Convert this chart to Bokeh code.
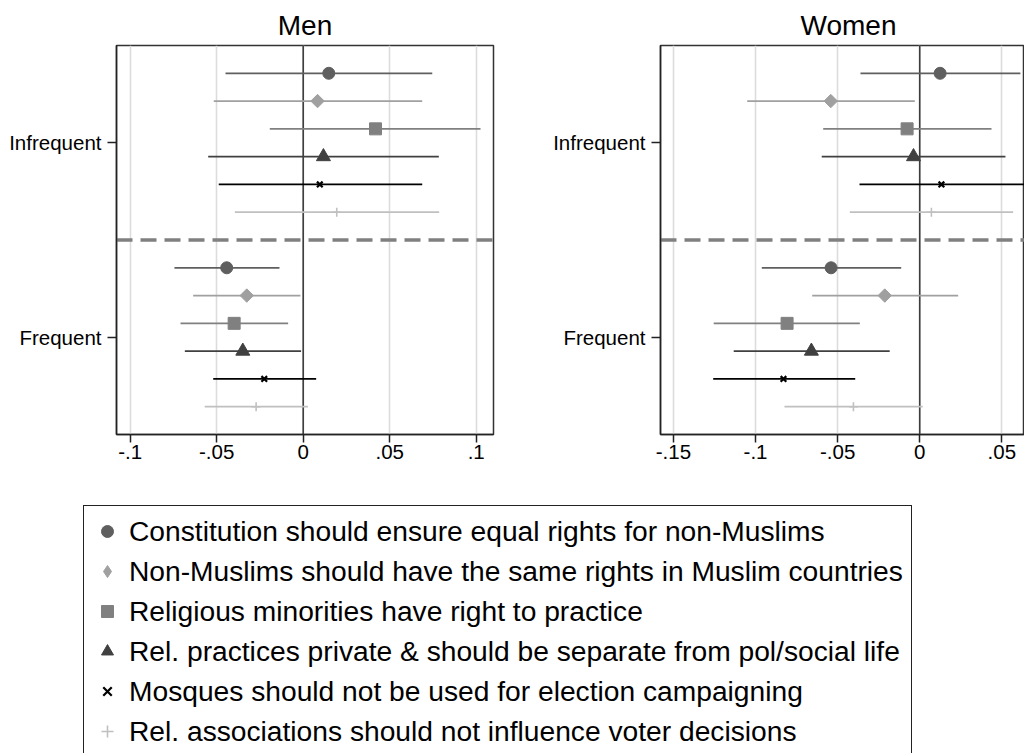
import math
from bokeh.plotting import figure
from bokeh.models import (Range1d, FixedTicker, Span, Legend, LegendItem,
                          ColumnDataSource)
from bokeh.layouts import column, row
from bokeh.embed import file_html
from bokeh.resources import INLINE

# ---------------- data ----------------
series_labels = [
    "Constitution should ensure equal rights for non-Muslims",
    "Non-Muslims should have the same rights in Muslim countries",
    "Religious minorities have right to practice",
    "Rel. practices private & should be separate from pol/social life",
    "Mosques should not be used for election campaigning",
    "Rel. associations should not influence voter decisions",
]
group_labels = ["Infrequent", "Frequent"]

men_infrequent_est = [0.0148, 0.0083, 0.0418, 0.0117, 0.0096, 0.0194]
men_infrequent_lo = [-0.0449, -0.0517, -0.0193, -0.0549, -0.0488, -0.0395]
men_infrequent_hi = [0.0746, 0.0688, 0.1025, 0.0784, 0.0688, 0.0786]
men_frequent_est = [-0.0442, -0.0326, -0.0399, -0.0349, -0.0225, -0.0272]
men_frequent_lo = [-0.0744, -0.0636, -0.0709, -0.0684, -0.0520, -0.0569]
men_frequent_hi = [-0.0137, -0.0016, -0.0087, -0.0012, 0.0075, 0.0027]

women_infrequent_est = [0.0124, -0.0542, -0.0077, -0.0038, 0.0132, 0.0071]
women_infrequent_lo = [-0.0361, -0.1051, -0.0588, -0.0597, -0.0367, -0.0426]
women_infrequent_hi = [0.0613, -0.0030, 0.0437, 0.0522, 0.0660, 0.0569]
women_frequent_est = [-0.0540, -0.0213, -0.0808, -0.0660, -0.0830, -0.0404]
women_frequent_lo = [-0.0962, -0.0655, -0.1255, -0.1133, -0.1258, -0.0824]
women_frequent_hi = [-0.0113, 0.0234, -0.0365, -0.0183, -0.0393, 0.0018]

men_xticks = [-0.1, -0.05, 0.0, 0.05, 0.1]
men_xlabels = ["-.1", "-.05", "0", ".05", ".1"]
women_xticks = [-0.15, -0.1, -0.05, 0.0, 0.05]
women_xlabels = ["-.15", "-.1", "-.05", "0", ".05"]

# ---------------- styles ----------------
FONT = "Liberation Sans"
colors = ["#5f5f5f", "#a0a0a0", "#808080", "#404040", "#000000", "#c0c0c0"]
markers = ["circle", "square", "square", "triangle", "x", "cross"]
legend_markers = ["circle", "diamond", "square", "triangle", "x", "cross"]
angles = [0, math.pi / 4, 0, 0, 0, 0]
sizes = [12, 9.5, 12, 14, 8, 9]
mlw = [1, 1, 1, 1, 2.2, 1.6]

n_series = len(series_labels)
group_offset = {g: k * (n_series + 1) for k, g in enumerate(group_labels)}
y_total = len(group_labels) * (n_series + 1)


def make_panel(title, est, lo, hi, xr, xticks, xlabels, width, mbl, mbr,
               title_align, title_offset):
    p = figure(width=width, height=480, x_range=Range1d(*xr),
               y_range=Range1d(y_total, 0), output_backend="svg",
               toolbar_location=None, min_border_left=mbl,
               min_border_right=mbr, min_border_top=45, min_border_bottom=46,
               title=title)
    p.background_fill_color = "white"
    p.border_fill_color = "white"
    p.outline_line_color = "#333333"
    p.outline_line_width = 1.5

    p.title.text_font = FONT
    p.title.text_font_size = "28px"
    p.title.text_font_style = "normal"
    p.title.text_color = "black"
    p.title.align = title_align
    p.title.offset = title_offset
    p.title.standoff = 10

    # axes
    p.xaxis.ticker = FixedTicker(ticks=xticks)
    p.xaxis.major_label_overrides = dict(zip(xticks, xlabels))
    p.xaxis.major_tick_out = 8
    p.xaxis.major_tick_in = 0
    p.xaxis.minor_tick_line_color = None
    p.xaxis.major_label_standoff = 2
    yt = [group_offset[g] + (n_series + 1) / 2 for g in group_labels]
    p.yaxis.ticker = FixedTicker(ticks=yt)
    p.yaxis.major_label_overrides = dict(zip(yt, group_labels))
    p.yaxis.major_tick_out = 9
    p.yaxis.major_tick_in = 0
    p.yaxis.minor_tick_line_color = None
    p.yaxis.major_label_standoff = 6
    for ax in (p.xaxis, p.yaxis):
        ax.axis_line_color = "#222222"
        ax.axis_line_width = 1.5
        ax.major_tick_line_color = "#222222"
        ax.major_tick_line_width = 1.5
        ax.major_label_text_font = FONT
        ax.major_label_text_font_size = "20.5px"
        ax.major_label_text_color = "black"

    p.xgrid.ticker = FixedTicker(ticks=xticks)
    p.xgrid.grid_line_color = "#dcdcdc"
    p.xgrid.grid_line_width = 1.6
    p.ygrid.grid_line_color = None

    p.add_layout(Span(location=0, dimension="height", line_color="#3c3c3c",
                      line_width=1.6, level="underlay"))
    p.add_layout(Span(location=n_series + 1, dimension="width",
                      line_color="#808080", line_width=3.3,
                      line_dash="16 8", level="underlay"))

    for i in range(n_series):
        src = ColumnDataSource(dict(
            est=[est[g][i] for g in group_labels],
            lo=[lo[g][i] for g in group_labels],
            hi=[hi[g][i] for g in group_labels],
            y=[group_offset[g] + i + 1 for g in group_labels],
        ))
        p.segment(x0="lo", y0="y", x1="hi", y1="y", source=src,
                  line_color=colors[i], line_width=1.8)
        p.scatter(x="est", y="y", source=src, marker=markers[i],
                  size=sizes[i], angle=angles[i], fill_color=colors[i],
                  line_color=colors[i], line_width=mlw[i])
    return p


men = make_panel(
    "Men",
    {"Infrequent": men_infrequent_est, "Frequent": men_frequent_est},
    {"Infrequent": men_infrequent_lo, "Frequent": men_frequent_lo},
    {"Infrequent": men_infrequent_hi, "Frequent": men_frequent_hi},
    (-0.1079, 0.1100), men_xticks, men_xlabels, 540, 116, 47, "center", 0)

women = make_panel(
    "Women",
    {"Infrequent": women_infrequent_est, "Frequent": women_frequent_est},
    {"Infrequent": women_infrequent_lo, "Frequent": women_frequent_lo},
    {"Infrequent": women_infrequent_hi, "Frequent": women_frequent_hi},
    (-0.1579, 0.0638), women_xticks, women_xlabels, 484, 120, 0, "left", 140)

# ---------------- legend panel ----------------
leg = figure(width=1024, height=273, x_range=Range1d(0, 1),
             y_range=Range1d(100, 101), x_axis_type=None, y_axis_type=None,
             output_backend="svg", toolbar_location=None,
             min_border_left=0, min_border_right=0, min_border_top=0,
             min_border_bottom=0)
leg.outline_line_color = None
leg.background_fill_color = "white"
leg.border_fill_color = "white"
leg.grid.visible = False

items = []
for i, lab in enumerate(series_labels):
    r = leg.scatter(x=[men_infrequent_est[i]], y=[i + 1],
                    marker=legend_markers[i], size=sizes[i],
                    fill_color=colors[i], line_color=colors[i],
                    line_width=mlw[i])
    items.append(LegendItem(label=lab, renderers=[r]))

legend = Legend(items=items, location=(83, -4), orientation="vertical",
                glyph_width=30, glyph_height=34, spacing=6, padding=8,
                label_standoff=7, label_text_font=FONT,
                label_text_font_size="28.2px", label_text_color="black",
                border_line_color="#222222", border_line_width=1.5,
                border_line_alpha=1.0,
                background_fill_color="white", background_fill_alpha=1.0)
leg.add_layout(legend, "center")

layout = column(row(men, women), leg)
open("out.html", "w").write(file_html(layout, INLINE))
